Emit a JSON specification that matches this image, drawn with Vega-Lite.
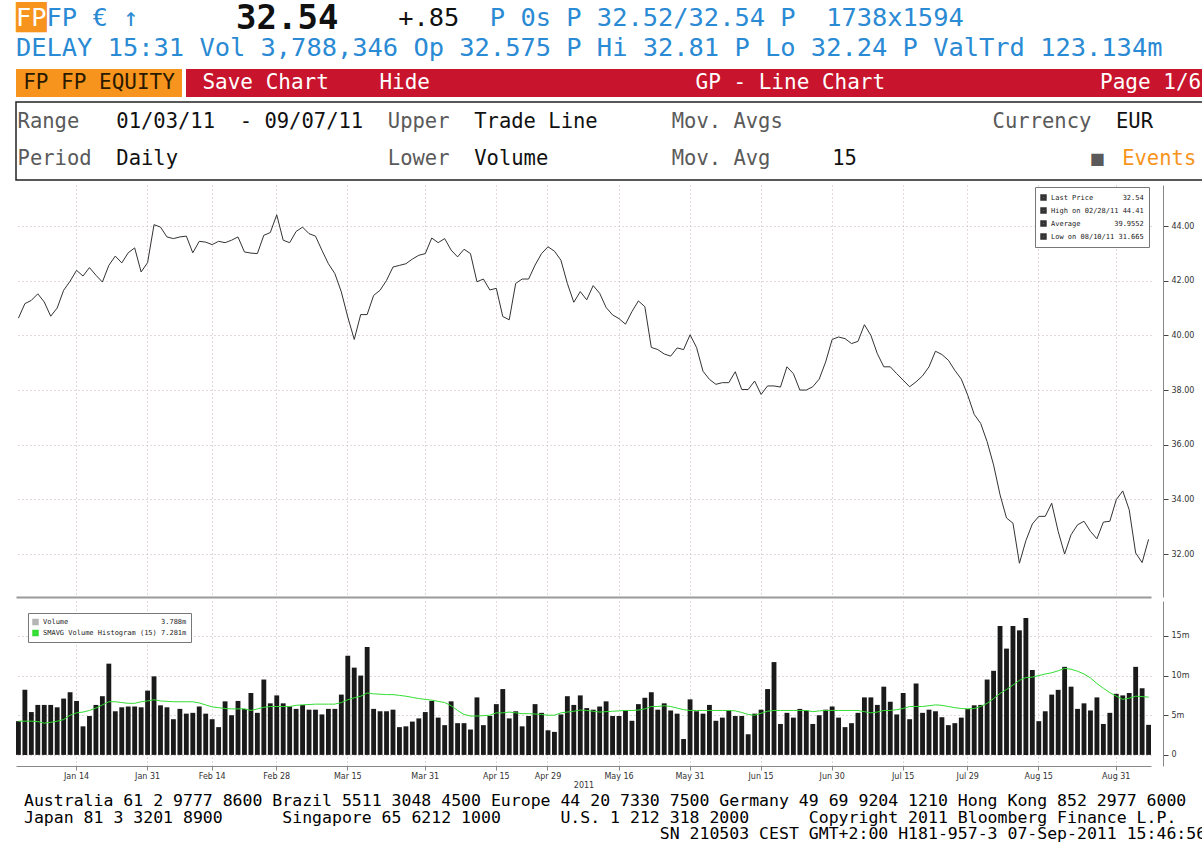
{
"$schema": "https://vega.github.io/schema/vega-lite/v6.json",
"background": "white",
"padding": {"left": 10, "top": 2, "right": 2, "bottom": 2},
"config": {"view": {"stroke": null}, "concat": {"spacing": 4}, "font": "DejaVu Sans", "axis": {"labelFont": "DejaVu Sans", "titleFont": "DejaVu Sans"}},
"spacing": 4,
"resolve": {"scale": {"color": "independent"}, "legend": {"color": "independent"}},
"datasets": {
"one": [{"k": 1}],
"px": [
{"day":"2011-01-03","close":40.63,"volume":4.25,"smavg":4.25},
{"day":"2011-01-04","close":41.16,"volume":8.2,"smavg":4.25},
{"day":"2011-01-05","close":41.28,"volume":5.4,"smavg":4.25},
{"day":"2011-01-06","close":41.52,"volume":6.3,"smavg":4.2},
{"day":"2011-01-07","close":41.22,"volume":6.3,"smavg":4.0},
{"day":"2011-01-10","close":40.70,"volume":6.3,"smavg":4.1},
{"day":"2011-01-11","close":41.00,"volume":6.0,"smavg":4.25},
{"day":"2011-01-12","close":41.65,"volume":7.1,"smavg":4.45},
{"day":"2011-01-13","close":41.98,"volume":7.9,"smavg":5.0},
{"day":"2011-01-14","close":42.38,"volume":6.8,"smavg":5.3},
{"day":"2011-01-17","close":42.17,"volume":3.6,"smavg":5.4},
{"day":"2011-01-18","close":42.48,"volume":4.9,"smavg":5.6},
{"day":"2011-01-19","close":42.20,"volume":6.3,"smavg":5.9},
{"day":"2011-01-20","close":41.95,"volume":7.4,"smavg":6.3},
{"day":"2011-01-21","close":42.56,"volume":11.5,"smavg":6.7},
{"day":"2011-01-24","close":42.90,"volume":5.5,"smavg":6.7},
{"day":"2011-01-25","close":42.65,"volume":6.0,"smavg":6.6},
{"day":"2011-01-26","close":43.02,"volume":6.1,"smavg":6.5},
{"day":"2011-01-27","close":43.20,"volume":6.1,"smavg":6.5},
{"day":"2011-01-28","close":42.32,"volume":6.0,"smavg":6.7},
{"day":"2011-01-31","close":42.66,"volume":8.1,"smavg":6.8},
{"day":"2011-02-01","close":44.05,"volume":9.9,"smavg":6.95},
{"day":"2011-02-02","close":43.96,"volume":6.25,"smavg":6.8},
{"day":"2011-02-03","close":43.60,"volume":6.0,"smavg":6.75},
{"day":"2011-02-04","close":43.54,"volume":4.5,"smavg":6.7},
{"day":"2011-02-07","close":43.60,"volume":5.8,"smavg":6.7},
{"day":"2011-02-08","close":43.63,"volume":5.2,"smavg":6.7},
{"day":"2011-02-09","close":43.02,"volume":5.3,"smavg":6.7},
{"day":"2011-02-10","close":43.44,"volume":6.1,"smavg":6.55},
{"day":"2011-02-11","close":43.41,"volume":5.2,"smavg":6.3},
{"day":"2011-02-14","close":43.32,"volume":4.5,"smavg":6.05},
{"day":"2011-02-15","close":43.44,"volume":3.5,"smavg":5.95},
{"day":"2011-02-16","close":43.39,"volume":6.75,"smavg":5.85},
{"day":"2011-02-17","close":43.48,"volume":5.0,"smavg":5.8},
{"day":"2011-02-18","close":43.60,"volume":6.8,"smavg":5.8},
{"day":"2011-02-21","close":43.05,"volume":5.8,"smavg":5.8},
{"day":"2011-02-22","close":43.01,"volume":7.8,"smavg":5.6},
{"day":"2011-02-23","close":42.99,"volume":5.3,"smavg":5.8},
{"day":"2011-02-24","close":43.66,"volume":9.5,"smavg":6.0},
{"day":"2011-02-25","close":43.76,"volume":6.5,"smavg":6.1},
{"day":"2011-02-28","close":44.41,"volume":7.5,"smavg":6.1},
{"day":"2011-03-01","close":43.48,"volume":6.5,"smavg":6.1},
{"day":"2011-03-02","close":43.39,"volume":6.1,"smavg":6.1},
{"day":"2011-03-03","close":43.80,"volume":5.8,"smavg":6.25},
{"day":"2011-03-04","close":43.96,"volume":6.3,"smavg":6.3},
{"day":"2011-03-07","close":43.72,"volume":5.7,"smavg":6.35},
{"day":"2011-03-08","close":43.63,"volume":5.7,"smavg":6.4},
{"day":"2011-03-09","close":43.11,"volume":5.1,"smavg":6.4},
{"day":"2011-03-10","close":42.62,"volume":5.8,"smavg":6.4},
{"day":"2011-03-11","close":42.26,"volume":5.8,"smavg":6.4},
{"day":"2011-03-14","close":41.59,"volume":7.6,"smavg":6.6},
{"day":"2011-03-15","close":40.67,"volume":12.5,"smavg":6.95},
{"day":"2011-03-16","close":39.85,"volume":11.0,"smavg":7.2},
{"day":"2011-03-17","close":40.76,"volume":10.0,"smavg":7.4},
{"day":"2011-03-18","close":40.76,"volume":13.6,"smavg":7.8},
{"day":"2011-03-21","close":41.46,"volume":5.8,"smavg":7.7},
{"day":"2011-03-22","close":41.65,"volume":5.5,"smavg":7.65},
{"day":"2011-03-23","close":42.01,"volume":5.5,"smavg":7.6},
{"day":"2011-03-24","close":42.50,"volume":5.7,"smavg":7.6},
{"day":"2011-03-25","close":42.56,"volume":3.5,"smavg":7.5},
{"day":"2011-03-28","close":42.62,"volume":3.6,"smavg":7.4},
{"day":"2011-03-29","close":42.79,"volume":4.2,"smavg":7.25},
{"day":"2011-03-30","close":42.93,"volume":4.6,"smavg":7.1},
{"day":"2011-03-31","close":42.99,"volume":5.4,"smavg":7.0},
{"day":"2011-04-01","close":43.56,"volume":6.8,"smavg":6.9},
{"day":"2011-04-04","close":43.39,"volume":4.7,"smavg":6.75},
{"day":"2011-04-05","close":43.54,"volume":3.75,"smavg":6.6},
{"day":"2011-04-06","close":43.12,"volume":6.75,"smavg":6.2},
{"day":"2011-04-07","close":42.87,"volume":4.0,"smavg":5.6},
{"day":"2011-04-08","close":43.15,"volume":4.0,"smavg":5.1},
{"day":"2011-04-11","close":42.99,"volume":3.2,"smavg":4.9},
{"day":"2011-04-12","close":41.96,"volume":7.25,"smavg":4.9},
{"day":"2011-04-13","close":42.06,"volume":3.75,"smavg":4.95},
{"day":"2011-04-14","close":41.66,"volume":4.9,"smavg":5.0},
{"day":"2011-04-15","close":41.72,"volume":6.4,"smavg":5.3},
{"day":"2011-04-18","close":40.69,"volume":8.3,"smavg":5.3},
{"day":"2011-04-19","close":40.57,"volume":4.6,"smavg":5.4},
{"day":"2011-04-20","close":41.90,"volume":5.5,"smavg":5.3},
{"day":"2011-04-21","close":42.06,"volume":3.6,"smavg":5.2},
{"day":"2011-04-26","close":42.06,"volume":4.9,"smavg":5.2},
{"day":"2011-04-27","close":42.57,"volume":6.4,"smavg":5.15},
{"day":"2011-04-28","close":42.99,"volume":5.3,"smavg":5.1},
{"day":"2011-04-29","close":43.24,"volume":3.1,"smavg":5.0},
{"day":"2011-05-02","close":43.08,"volume":2.9,"smavg":5.0},
{"day":"2011-05-03","close":42.75,"volume":5.1,"smavg":5.3},
{"day":"2011-05-04","close":41.90,"volume":7.4,"smavg":5.4},
{"day":"2011-05-05","close":41.21,"volume":6.3,"smavg":5.5},
{"day":"2011-05-06","close":41.60,"volume":7.5,"smavg":5.65},
{"day":"2011-05-09","close":41.30,"volume":5.9,"smavg":5.6},
{"day":"2011-05-10","close":41.82,"volume":5.7,"smavg":5.5},
{"day":"2011-05-11","close":41.54,"volume":6.1,"smavg":5.4},
{"day":"2011-05-12","close":41.02,"volume":6.75,"smavg":5.45},
{"day":"2011-05-13","close":40.75,"volume":4.9,"smavg":5.5},
{"day":"2011-05-16","close":40.61,"volume":4.9,"smavg":5.55},
{"day":"2011-05-17","close":40.41,"volume":5.6,"smavg":5.6},
{"day":"2011-05-18","close":40.87,"volume":4.3,"smavg":5.6},
{"day":"2011-05-19","close":41.26,"volume":6.4,"smavg":5.65},
{"day":"2011-05-20","close":41.05,"volume":7.2,"smavg":5.8},
{"day":"2011-05-23","close":39.56,"volume":7.9,"smavg":6.1},
{"day":"2011-05-24","close":39.48,"volume":5.7,"smavg":6.1},
{"day":"2011-05-25","close":39.32,"volume":6.5,"smavg":6.2},
{"day":"2011-05-26","close":39.24,"volume":5.6,"smavg":6.1},
{"day":"2011-05-27","close":39.54,"volume":5.2,"smavg":5.9},
{"day":"2011-05-30","close":39.48,"volume":2.0,"smavg":5.7},
{"day":"2011-05-31","close":40.02,"volume":7.0,"smavg":5.6},
{"day":"2011-06-01","close":39.56,"volume":5.5,"smavg":5.6},
{"day":"2011-06-02","close":38.69,"volume":5.2,"smavg":5.6},
{"day":"2011-06-03","close":38.39,"volume":6.3,"smavg":5.6},
{"day":"2011-06-06","close":38.21,"volume":4.3,"smavg":5.6},
{"day":"2011-06-07","close":38.27,"volume":4.7,"smavg":5.6},
{"day":"2011-06-08","close":38.27,"volume":5.6,"smavg":5.6},
{"day":"2011-06-09","close":38.67,"volume":4.9,"smavg":5.55},
{"day":"2011-06-10","close":38.02,"volume":4.9,"smavg":5.35},
{"day":"2011-06-13","close":38.02,"volume":2.6,"smavg":5.1},
{"day":"2011-06-14","close":38.33,"volume":5.2,"smavg":5.0},
{"day":"2011-06-15","close":37.84,"volume":5.7,"smavg":5.25},
{"day":"2011-06-16","close":38.15,"volume":8.3,"smavg":5.5},
{"day":"2011-06-17","close":38.15,"volume":11.7,"smavg":5.6},
{"day":"2011-06-20","close":38.11,"volume":3.9,"smavg":5.6},
{"day":"2011-06-21","close":38.85,"volume":5.3,"smavg":5.6},
{"day":"2011-06-22","close":38.60,"volume":4.7,"smavg":5.6},
{"day":"2011-06-23","close":38.00,"volume":5.8,"smavg":5.6},
{"day":"2011-06-24","close":38.00,"volume":5.6,"smavg":5.6},
{"day":"2011-06-27","close":38.12,"volume":3.9,"smavg":5.45},
{"day":"2011-06-28","close":38.40,"volume":5.0,"smavg":5.55},
{"day":"2011-06-29","close":39.03,"volume":5.7,"smavg":5.6},
{"day":"2011-06-30","close":39.85,"volume":6.1,"smavg":5.6},
{"day":"2011-07-01","close":39.94,"volume":4.7,"smavg":5.6},
{"day":"2011-07-04","close":39.88,"volume":3.5,"smavg":5.6},
{"day":"2011-07-05","close":39.70,"volume":4.0,"smavg":5.6},
{"day":"2011-07-06","close":39.78,"volume":5.3,"smavg":5.6},
{"day":"2011-07-07","close":40.39,"volume":7.25,"smavg":5.45},
{"day":"2011-07-08","close":40.00,"volume":7.25,"smavg":5.3},
{"day":"2011-07-11","close":39.33,"volume":6.3,"smavg":5.4},
{"day":"2011-07-12","close":38.85,"volume":8.6,"smavg":5.6},
{"day":"2011-07-13","close":38.85,"volume":6.7,"smavg":5.6},
{"day":"2011-07-14","close":38.60,"volume":5.1,"smavg":5.7},
{"day":"2011-07-15","close":38.36,"volume":7.8,"smavg":5.85},
{"day":"2011-07-18","close":38.12,"volume":4.5,"smavg":6.1},
{"day":"2011-07-19","close":38.30,"volume":9.0,"smavg":6.1},
{"day":"2011-07-20","close":38.52,"volume":5.3,"smavg":6.1},
{"day":"2011-07-21","close":38.85,"volume":5.7,"smavg":6.2},
{"day":"2011-07-22","close":39.42,"volume":5.5,"smavg":6.3},
{"day":"2011-07-25","close":39.30,"volume":4.75,"smavg":6.25},
{"day":"2011-07-26","close":39.09,"volume":3.75,"smavg":6.1},
{"day":"2011-07-27","close":38.72,"volume":4.0,"smavg":5.95},
{"day":"2011-07-28","close":38.40,"volume":4.7,"smavg":5.85},
{"day":"2011-07-29","close":37.81,"volume":5.8,"smavg":5.8},
{"day":"2011-08-01","close":37.11,"volume":6.25,"smavg":5.85},
{"day":"2011-08-02","close":36.78,"volume":6.3,"smavg":6.1},
{"day":"2011-08-03","close":36.11,"volume":9.5,"smavg":6.5},
{"day":"2011-08-04","close":35.26,"volume":10.6,"smavg":7.1},
{"day":"2011-08-05","close":34.17,"volume":16.25,"smavg":7.75},
{"day":"2011-08-08","close":33.32,"volume":13.4,"smavg":8.25},
{"day":"2011-08-09","close":33.13,"volume":16.25,"smavg":8.8},
{"day":"2011-08-10","close":31.665,"volume":15.7,"smavg":9.4},
{"day":"2011-08-11","close":32.49,"volume":17.25,"smavg":9.75},
{"day":"2011-08-12","close":33.10,"volume":10.7,"smavg":9.8},
{"day":"2011-08-15","close":33.38,"volume":4.25,"smavg":10.0},
{"day":"2011-08-16","close":33.38,"volume":5.5,"smavg":10.2},
{"day":"2011-08-17","close":33.86,"volume":7.6,"smavg":10.35},
{"day":"2011-08-18","close":32.83,"volume":8.2,"smavg":10.6},
{"day":"2011-08-19","close":32.00,"volume":11.1,"smavg":10.9},
{"day":"2011-08-22","close":32.71,"volume":8.6,"smavg":10.8},
{"day":"2011-08-23","close":33.07,"volume":5.8,"smavg":10.55},
{"day":"2011-08-24","close":33.20,"volume":6.5,"smavg":10.2},
{"day":"2011-08-25","close":32.83,"volume":5.6,"smavg":9.7},
{"day":"2011-08-26","close":32.56,"volume":7.25,"smavg":9.0},
{"day":"2011-08-29","close":33.17,"volume":3.9,"smavg":8.4},
{"day":"2011-08-30","close":33.20,"volume":5.3,"smavg":7.85},
{"day":"2011-08-31","close":33.99,"volume":7.7,"smavg":7.4},
{"day":"2011-09-01","close":34.31,"volume":7.5,"smavg":7.0},
{"day":"2011-09-02","close":33.62,"volume":7.8,"smavg":7.15},
{"day":"2011-09-05","close":32.04,"volume":11.1,"smavg":7.4},
{"day":"2011-09-06","close":31.69,"volume":8.4,"smavg":7.35},
{"day":"2011-09-07","close":32.54,"volume":3.788,"smavg":7.281}
]
},
"vconcat": [
{
"width": 1177, "height": 62,
"data": {"name": "one"},
"layer": [
{"mark": {"type": "text", "font": "DejaVu Sans Mono", "fontSize": 25.4, "lineHeight": 30, "align": "center", "baseline": "line-bottom", "fill": "#f7941d",
 "text": "██\u00a0\u00a0\u00a0\u00a0\u00a0\u00a0\u00a0\u00a0\u00a0\u00a0\u00a0\u00a0\u00a0\u00a0\u00a0\u00a0\u00a0\u00a0\u00a0\u00a0\u00a0\u00a0\u00a0\u00a0\u00a0\u00a0\u00a0\u00a0\u00a0\u00a0\u00a0\u00a0\u00a0\u00a0\u00a0\u00a0\u00a0\u00a0\u00a0\u00a0\u00a0\u00a0\u00a0\u00a0\u00a0\u00a0\u00a0\u00a0\u00a0\u00a0\u00a0\u00a0\u00a0\u00a0\u00a0\u00a0\u00a0\u00a0\u00a0\u00a0\u00a0\u00a0\u00a0\u00a0\u00a0\u00a0\u00a0\u00a0\u00a0\u00a0\u00a0\u00a0\u00a0\u00a0\u00a0\u200b"},
 "encoding": {}},
{"mark": {"type": "text", "font": "DejaVu Sans Mono", "fontSize": 25.4, "lineHeight": 30, "align": "center", "baseline": "line-bottom", "fill": "#ffffff",
 "text": "FP\u00a0\u00a0\u00a0\u00a0\u00a0\u00a0\u00a0\u00a0\u00a0\u00a0\u00a0\u00a0\u00a0\u00a0\u00a0\u00a0\u00a0\u00a0\u00a0\u00a0\u00a0\u00a0\u00a0\u00a0\u00a0\u00a0\u00a0\u00a0\u00a0\u00a0\u00a0\u00a0\u00a0\u00a0\u00a0\u00a0\u00a0\u00a0\u00a0\u00a0\u00a0\u00a0\u00a0\u00a0\u00a0\u00a0\u00a0\u00a0\u00a0\u00a0\u00a0\u00a0\u00a0\u00a0\u00a0\u00a0\u00a0\u00a0\u00a0\u00a0\u00a0\u00a0\u00a0\u00a0\u00a0\u00a0\u00a0\u00a0\u00a0\u00a0\u00a0\u00a0\u00a0\u00a0\u00a0\u200b"},
 "encoding": {}},
{"mark": {"type": "text", "font": "DejaVu Sans Mono", "fontSize": 25.4, "lineHeight": 30, "align": "center", "baseline": "line-bottom", "fill": "#2a8ad4",
 "text": "\u200b\u00a0\u00a0FP\u00a0€\u00a0↑\u00a0\u00a0\u00a0\u00a0\u00a0\u00a0\u00a0\u00a0\u00a0\u00a0\u00a0\u00a0\u00a0\u00a0\u00a0\u00a0\u00a0\u00a0\u00a0\u00a0\u00a0\u00a0\u00a0P 0s P 32.52/32.54 P\u00a0\u00a01738x1594\u00a0\u00a0\u00a0\u00a0\u00a0\u00a0\u00a0\u00a0\u00a0\u00a0\u00a0\u00a0\u00a0\u00a0\u00a0\u200b"},
 "encoding": {}},
{"mark": {"type": "text", "font": "DejaVu Sans Mono", "fontSize": 25.4, "lineHeight": 30, "align": "center", "baseline": "line-bottom", "fill": "#111111",
 "text": "\u200b\u00a0\u00a0\u00a0\u00a0\u00a0\u00a0\u00a0\u00a0\u00a0\u00a0\u00a0\u00a0\u00a0\u00a0\u00a0\u00a0\u00a0\u00a0\u00a0\u00a0\u00a0\u00a0\u00a0\u00a0\u00a0+.85\u00a0\u00a0\u00a0\u00a0\u00a0\u00a0\u00a0\u00a0\u00a0\u00a0\u00a0\u00a0\u00a0\u00a0\u00a0\u00a0\u00a0\u00a0\u00a0\u00a0\u00a0\u00a0\u00a0\u00a0\u00a0\u00a0\u00a0\u00a0\u00a0\u00a0\u00a0\u00a0\u00a0\u00a0\u00a0\u00a0\u00a0\u00a0\u00a0\u00a0\u00a0\u00a0\u00a0\u00a0\u00a0\u00a0\u00a0\u00a0\u200b"},
 "encoding": {}},
{"mark": {"type": "text", "font": "DejaVu Sans Mono", "fontSize": 34, "fontWeight": "bold", "lineHeight": 30, "align": "center", "baseline": "line-bottom", "fill": "#111111",
 "text": "32.54\u00a0\u00a0\u00a0\u00a0\u00a0\u00a0\u00a0\u00a0\u00a0\u00a0\u00a0\u00a0\u00a0\u00a0\u00a0\u00a0\u00a0\u00a0\u00a0\u00a0\u00a0\u00a0\u00a0\u00a0\u00a0\u00a0\u00a0\u00a0\u00a0\u00a0\u00a0\u200b"},
 "encoding": {}},
{"mark": {"type": "text", "font": "DejaVu Sans Mono", "fontSize": 25.4, "lineHeight": 30, "align": "center", "baseline": "line-top", "fill": "#2a8ad4",
 "text": "DELAY 15:31 Vol 3,788,346 Op 32.575 P Hi 32.81 P Lo 32.24 P ValTrd 123.134m\u00a0\u00a0\u200b"},
 "encoding": {}}
]
},
{
"spacing": 4,
"hconcat": [
{"width": 166, "height": 28, "view": {"fill": "#f7941d", "stroke": null},
 "data": {"name": "one"},
 "mark": {"type": "text", "text": "FP FP EQUITY", "font": "DejaVu Sans Mono", "fontSize": 21, "fill": "#2a1a00", "align": "center", "baseline": "middle"},
 "encoding": {}},
{"width": 1019, "height": 28, "view": {"fill": "#c8142c", "stroke": null},
 "data": {"name": "one"},
 "mark": {"type": "text", "text": "\u200b\u00a0Save Chart\u00a0\u00a0\u00a0\u00a0Hide\u00a0\u00a0\u00a0\u00a0\u00a0\u00a0\u00a0\u00a0\u00a0\u00a0\u00a0\u00a0\u00a0\u00a0\u00a0\u00a0\u00a0\u00a0\u00a0\u00a0\u00a0GP - Line Chart\u00a0\u00a0\u00a0\u00a0\u00a0\u00a0\u00a0\u00a0\u00a0\u00a0\u00a0\u00a0\u00a0\u00a0\u00a0\u00a0\u00a0Page 1/6", "font": "DejaVu Sans Mono", "fontSize": 21, "fill": "#ffffff", "align": "center", "baseline": "middle"},
 "encoding": {}}
]
},
{
"width": 1188, "height": 78,
"view": {"stroke": "#222222", "strokeWidth": 1.5, "fill": "white"},
"data": {"name": "one"},
"layer": [
{"mark": {"type": "text", "font": "DejaVu Sans Mono", "fontSize": 20.5, "lineHeight": 37, "align": "center", "baseline": "line-bottom", "fill": "#5a5a5a",
 "text": "Range\u00a0\u00a0\u00a0\u00a0\u00a0\u00a0\u00a0\u00a0\u00a0\u00a0\u00a0\u00a0\u00a0\u00a0\u00a0\u00a0\u00a0\u00a0\u00a0\u00a0\u00a0\u00a0\u00a0\u00a0\u00a0Upper\u00a0\u00a0\u00a0\u00a0\u00a0\u00a0\u00a0\u00a0\u00a0\u00a0\u00a0\u00a0\u00a0\u00a0\u00a0\u00a0\u00a0\u00a0Mov. Avgs\u00a0\u00a0\u00a0\u00a0\u00a0\u00a0\u00a0\u00a0\u00a0\u00a0\u00a0\u00a0\u00a0\u00a0\u00a0\u00a0\u00a0Currency\u00a0\u00a0\u00a0\u00a0\u00a0\u00a0\u00a0\u00a0\u00a0\u200b"},
 "encoding": {}},
{"mark": {"type": "text", "font": "DejaVu Sans Mono", "fontSize": 20.5, "lineHeight": 37, "align": "center", "baseline": "line-bottom", "fill": "#111111",
 "text": "\u200b\u00a0\u00a0\u00a0\u00a0\u00a0\u00a0\u00a0\u00a001/03/11\u00a0\u00a0-\u00a009/07/11\u00a0\u00a0\u00a0\u00a0\u00a0\u00a0\u00a0\u00a0\u00a0Trade Line\u00a0\u00a0\u00a0\u00a0\u00a0\u00a0\u00a0\u00a0\u00a0\u00a0\u00a0\u00a0\u00a0\u00a0\u00a0\u00a0\u00a0\u00a0\u00a0\u00a0\u00a0\u00a0\u00a0\u00a0\u00a0\u00a0\u00a0\u00a0\u00a0\u00a0\u00a0\u00a0\u00a0\u00a0\u00a0\u00a0\u00a0\u00a0\u00a0\u00a0\u00a0\u00a0EUR\u00a0\u00a0\u00a0\u00a0\u200b"},
 "encoding": {}},
{"mark": {"type": "text", "font": "DejaVu Sans Mono", "fontSize": 20.5, "lineHeight": 37, "align": "center", "baseline": "line-top", "fill": "#5a5a5a",
 "text": "Period\u00a0\u00a0\u00a0\u00a0\u00a0\u00a0\u00a0\u00a0\u00a0\u00a0\u00a0\u00a0\u00a0\u00a0\u00a0\u00a0\u00a0\u00a0\u00a0\u00a0\u00a0\u00a0\u00a0\u00a0Lower\u00a0\u00a0\u00a0\u00a0\u00a0\u00a0\u00a0\u00a0\u00a0\u00a0\u00a0\u00a0\u00a0\u00a0\u00a0\u00a0\u00a0\u00a0Mov. Avg\u00a0\u00a0\u00a0\u00a0\u00a0\u00a0\u00a0\u00a0\u00a0\u00a0\u00a0\u00a0\u00a0\u00a0\u00a0\u00a0\u00a0\u00a0\u00a0\u00a0\u00a0\u00a0\u00a0\u00a0\u00a0\u00a0■\u00a0\u00a0\u00a0\u00a0\u00a0\u00a0\u00a0\u00a0\u200b"},
 "encoding": {}},
{"mark": {"type": "text", "font": "DejaVu Sans Mono", "fontSize": 20.5, "lineHeight": 37, "align": "center", "baseline": "line-top", "fill": "#111111",
 "text": "\u200b\u00a0\u00a0\u00a0\u00a0\u00a0\u00a0\u00a0\u00a0Daily\u00a0\u00a0\u00a0\u00a0\u00a0\u00a0\u00a0\u00a0\u00a0\u00a0\u00a0\u00a0\u00a0\u00a0\u00a0\u00a0\u00a0\u00a0\u00a0\u00a0\u00a0\u00a0\u00a0\u00a0Volume\u00a0\u00a0\u00a0\u00a0\u00a0\u00a0\u00a0\u00a0\u00a0\u00a0\u00a0\u00a0\u00a0\u00a0\u00a0\u00a0\u00a0\u00a0\u00a0\u00a0\u00a0\u00a0\u00a015\u00a0\u00a0\u00a0\u00a0\u00a0\u00a0\u00a0\u00a0\u00a0\u00a0\u00a0\u00a0\u00a0\u00a0\u00a0\u00a0\u00a0\u00a0\u00a0\u00a0\u00a0\u00a0\u00a0\u00a0\u00a0\u00a0\u00a0\u00a0\u200b"},
 "encoding": {}},
{"mark": {"type": "text", "font": "DejaVu Sans Mono", "fontSize": 20.5, "lineHeight": 37, "align": "center", "baseline": "line-top", "fill": "#f7941d",
 "text": "\u200b\u00a0\u00a0\u00a0\u00a0\u00a0\u00a0\u00a0\u00a0\u00a0\u00a0\u00a0\u00a0\u00a0\u00a0\u00a0\u00a0\u00a0\u00a0\u00a0\u00a0\u00a0\u00a0\u00a0\u00a0\u00a0\u00a0\u00a0\u00a0\u00a0\u00a0\u00a0\u00a0\u00a0\u00a0\u00a0\u00a0\u00a0\u00a0\u00a0\u00a0\u00a0\u00a0\u00a0\u00a0\u00a0\u00a0\u00a0\u00a0\u00a0\u00a0\u00a0\u00a0\u00a0\u00a0\u00a0\u00a0\u00a0\u00a0\u00a0\u00a0\u00a0\u00a0\u00a0\u00a0\u00a0\u00a0\u00a0\u00a0\u00a0\u00a0\u00a0\u00a0\u00a0\u00a0\u00a0\u00a0\u00a0\u00a0\u00a0\u00a0\u00a0\u00a0\u00a0\u00a0\u00a0\u00a0\u00a0\u00a0\u00a0\u00a0Events\u00a0\u200b"},
 "encoding": {}}
]
},
{
"width": 1135, "height": 412,
"data": {"name": "px"},
"mark": {"type": "line", "strokeWidth": 1},
"encoding": {
 "x": {"field": "day", "type": "ordinal", "scale": {"type": "band", "paddingInner": 0.25, "paddingOuter": 0},
  "axis": {"values": ["2011-01-14","2011-01-31","2011-02-14","2011-02-28","2011-03-15","2011-03-31","2011-04-15","2011-04-29","2011-05-16","2011-05-31","2011-06-15","2011-06-30","2011-07-15","2011-07-29","2011-08-15","2011-08-31"],
   "labels": false, "ticks": false, "title": null, "domain": true, "domainColor": "#9a9a9a", "domainWidth": 2, "grid": true, "gridDash": [1, 3], "gridColor": "#c9b3b3", "bandPosition": 0.5}},
 "y": {"field": "close", "type": "quantitative", "scale": {"domain": [30.43, 45.5], "nice": false, "zero": false},
  "axis": {"orient": "right", "offset": 12, "values": [32, 34, 36, 38, 40, 42, 44], "format": ".2f", "labelFontSize": 8, "labelColor": "#333333", "tickSize": 5, "tickColor": "#444444", "domainColor": "#888888", "grid": true, "gridDash": [1, 3], "gridColor": "#c9b3b3", "title": null, "labelPadding": 3}},
 "color": {"datum": "Last Price\u00a0\u00a0\u00a0\u00a0\u00a0\u00a0\u00a032.54",
  "scale": {"domain": ["Last Price\u00a0\u00a0\u00a0\u00a0\u00a0\u00a0\u00a032.54", "High on 02/28/11 44.41", "Average\u00a0\u00a0\u00a0\u00a0\u00a0\u00a0\u00a0\u00a039.9552", "Low on 08/10/11 31.665"], "range": ["#333333", "#333333", "#333333", "#333333"]},
  "legend": {"orient": "top-right", "offset": 2, "title": null, "fillColor": "white", "strokeColor": "#777777", "padding": 5, "labelFont": "DejaVu Sans Mono", "labelFontSize": 7, "labelColor": "#222222", "symbolType": "square", "symbolSize": 12, "symbolStrokeWidth": 3, "rowPadding": 2, "clipHeight": 11}}
}
},
{
"width": 1135, "height": 165,
"data": {"name": "px"},
"title": {"text": ["Australia 61 2 9777 8600 Brazil 5511 3048 4500 Europe 44 20 7330 7500 Germany 49 69 9204 1210 Hong Kong 852 2977 6000",
  "Japan 81 3 3201 8900\u00a0\u00a0\u00a0\u00a0\u00a0\u00a0Singapore 65 6212 1000\u00a0\u00a0\u00a0\u00a0\u00a0\u00a0U.S. 1 212 318 2000\u00a0\u00a0\u00a0\u00a0\u00a0\u00a0Copyright 2011 Bloomberg Finance L.P.",
  "\u200b\u00a0\u00a0\u00a0\u00a0\u00a0\u00a0\u00a0\u00a0\u00a0\u00a0\u00a0\u00a0\u00a0\u00a0\u00a0\u00a0\u00a0\u00a0\u00a0\u00a0\u00a0\u00a0\u00a0\u00a0\u00a0\u00a0\u00a0\u00a0\u00a0\u00a0\u00a0\u00a0\u00a0\u00a0\u00a0\u00a0\u00a0\u00a0\u00a0\u00a0\u00a0\u00a0\u00a0\u00a0\u00a0\u00a0\u00a0\u00a0\u00a0\u00a0\u00a0\u00a0\u00a0\u00a0\u00a0\u00a0\u00a0\u00a0\u00a0\u00a0\u00a0\u00a0\u00a0\u00a0SN 210503 CEST GMT+2:00 H181-957-3 07-Sep-2011 15:46:56"],
  "orient": "bottom", "anchor": "start", "frame": "group", "font": "DejaVu Sans Mono", "fontSize": 16.5, "fontWeight": "normal", "color": "#000000", "lineHeight": 16.5, "offset": 4, "dx": 8},
"encoding": {
 "x": {"field": "day", "type": "ordinal", "scale": {"type": "band", "paddingInner": 0.25, "paddingOuter": 0},
  "axis": {"values": ["2011-01-14","2011-01-31","2011-02-14","2011-02-28","2011-03-15","2011-03-31","2011-04-15","2011-04-29","2011-05-16","2011-05-31","2011-06-15","2011-06-30","2011-07-15","2011-07-29","2011-08-15","2011-08-31"],
   "labelExpr": "utcFormat(toDate(datum.value), '%b %d')", "labelAngle": 0, "labelFontSize": 8, "labelColor": "#333333", "labelPadding": 2, "tickSize": 4, "tickColor": "#888888", "domainColor": "#888888", "grid": true, "gridDash": [1, 3], "gridColor": "#c9b3b3", "bandPosition": 0.5,
   "title": "2011", "titleFontSize": 8, "titleFontWeight": "normal", "titleColor": "#333333", "titlePadding": 1}}
},
"layer": [
 {"mark": {"type": "bar", "fill": "#1a1a1a"},
  "encoding": {"y": {"field": "volume", "type": "quantitative", "scale": {"domain": [-1.4, 19.4], "nice": false, "zero": false},
   "axis": {"orient": "right", "offset": 12, "values": [0, 5, 10, 15], "labelExpr": "datum.value == 0 ? '0' : datum.value + 'm'", "labelFontSize": 8, "labelColor": "#333333", "tickSize": 5, "tickColor": "#444444", "domainColor": "#888888", "grid": true, "gridDash": [1, 3], "gridColor": "#c9b3b3", "title": null, "labelPadding": 3}}}},
 {"mark": {"type": "line", "strokeWidth": 1},
  "encoding": {"y": {"field": "smavg", "type": "quantitative"},
   "color": {"datum": "SMAVG Volume Histogram (15) 7.281m",
    "scale": {"domain": ["Volume\u00a0\u00a0\u00a0\u00a0\u00a0\u00a0\u00a0\u00a0\u00a0\u00a0\u00a0\u00a0\u00a0\u00a0\u00a0\u00a0\u00a0\u00a0\u00a0\u00a0\u00a0\u00a03.788m", "SMAVG Volume Histogram (15) 7.281m"], "range": ["#b4b4b4", "#33dd33"]},
    "legend": {"orient": "top-left", "offset": 12, "title": null, "fillColor": "white", "strokeColor": "#777777", "padding": 4, "labelFont": "DejaVu Sans Mono", "labelFontSize": 7, "labelColor": "#222222", "symbolType": "square", "symbolSize": 12, "symbolStrokeWidth": 3, "rowPadding": 1, "clipHeight": 10}}}}
]
}
]
}
